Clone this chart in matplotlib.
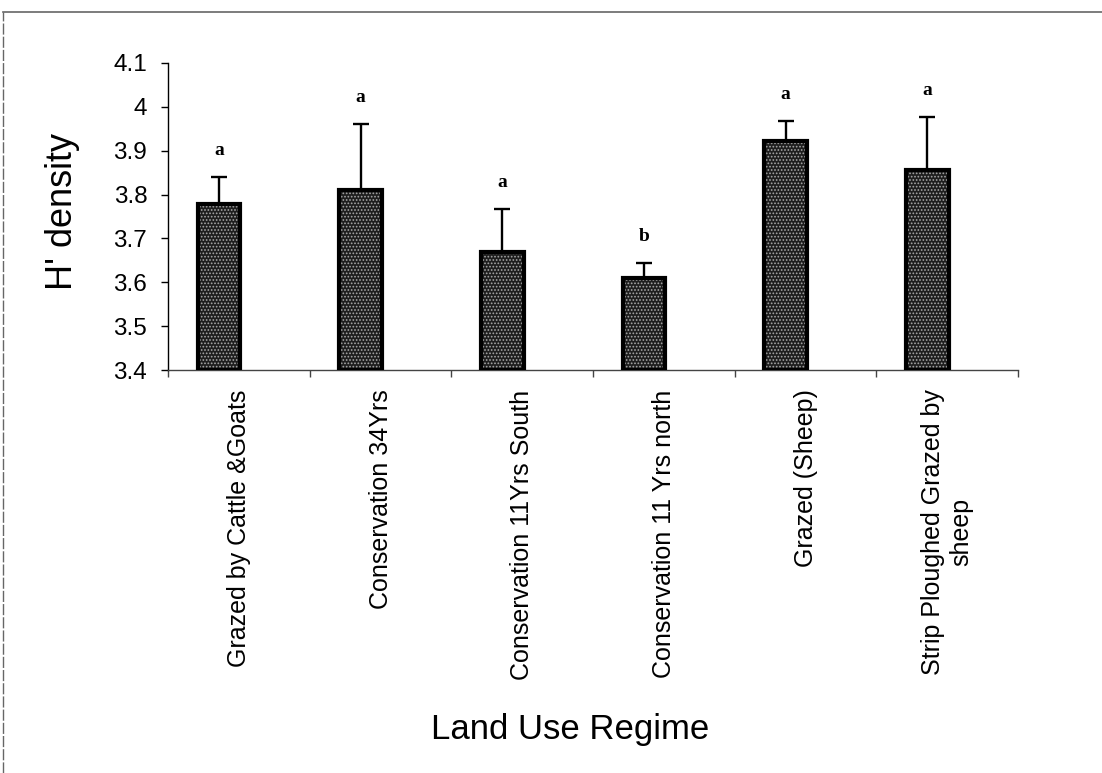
import matplotlib.pyplot as plt
from matplotlib.lines import Line2D
import numpy as np

regimes = ['Grazed by Cattle &Goats', 'Conservation 34Yrs', 'Conservation 11Yrs South',
           'Conservation 11 Yrs north', 'Grazed (Sheep)', 'Strip Ploughed Grazed by\nsheep']
h_density = [3.778, 3.810, 3.669, 3.610, 3.922, 3.856]
h_se = [0.062, 0.150, 0.098, 0.033, 0.045, 0.121]
groups = ['a', 'a', 'a', 'b', 'a', 'a']

plt.rcParams['font.family'] = ['Liberation Sans', 'DejaVu Sans']
plt.rcParams['hatch.linewidth'] = 0.8

fig = plt.figure(figsize=(11.02, 7.73), dpi=100)
ax = fig.add_axes([0.1525, 0.5213, 0.7713, 0.3972])

x = np.arange(len(regimes))
xb = x - 0.14
heights = [v - 3.4 for v in h_density]

# dark stippled bars: dark fill, grey dot hatch on top, black outline
ax.bar(xb, heights, bottom=3.4, width=0.30, color='#1e1e1e', edgecolor='none', zorder=2)
ax.bar(xb, heights, bottom=3.4, width=0.30, color='none', edgecolor='#a8a8a8',
       hatch='.....', linewidth=0, zorder=3)
ax.bar(xb, heights, bottom=3.4, width=0.30, color='none', edgecolor='black',
       linewidth=3.0, zorder=4)

# upper error bars only
ax.errorbar(xb, h_density, yerr=[np.zeros(len(h_se)), h_se], fmt='none',
            ecolor='black', elinewidth=1.7, capsize=6, capthick=1.7, zorder=5)

for xi, m, s, g in zip(xb, h_density, h_se, groups):
    ax.annotate(g, (xi, m + s), xytext=(0, 13), textcoords='offset points',
                ha='center', va='bottom', fontsize=14, fontweight='bold',
                family='Liberation Serif')

ax.set_xlim(-0.5, len(regimes) - 0.5)
ax.set_ylim(3.4, 4.1)
ax.set_yticks(np.round(np.arange(3.4, 4.11, 0.1), 1))
ax.set_yticklabels(['3.4', '3.5', '3.6', '3.7', '3.8', '3.9', '4', '4.1'], fontsize=17.5)
ax.tick_params(axis='y', direction='out', length=5, width=1, pad=10)

ax.set_xticks(x)
ax.set_xticklabels(regimes, rotation=90, fontsize=18, multialignment='center')
ax.tick_params(axis='x', which='major', length=0, pad=14)
ax.set_xticks(np.arange(-0.5, len(regimes), 1), minor=True)
ax.tick_params(axis='x', which='minor', direction='out', length=5, width=1, color='#444444')

for side in ['top', 'right']:
    ax.spines[side].set_visible(False)
ax.spines['left'].set_linewidth(1.0)
ax.spines['bottom'].set_color('#444444')
ax.spines['bottom'].set_linewidth(1.0)

fig.text(63 / 1102, 1 - 211 / 773, "H' density", rotation=90, ha='center', va='center',
         fontsize=26)
fig.text(570 / 1102, 1 - 730 / 773, 'Land Use Regime', ha='center', va='center',
         fontsize=25)

# page border
fig.add_artist(Line2D([3 / 1102, 1.0], [1 - 12 / 773] * 2, transform=fig.transFigure,
                      color='#666666', lw=1.2))
fig.add_artist(Line2D([3 / 1102] * 2, [0.0, 1 - 12 / 773], transform=fig.transFigure,
                      color='#666666', lw=1.0, linestyle=(0, (8, 1.5))))

fig.savefig('out.png', dpi=100)
